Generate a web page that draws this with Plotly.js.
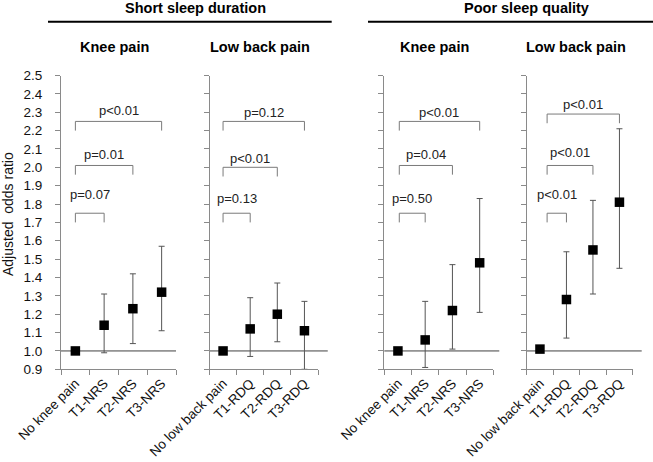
<!DOCTYPE html>
<html><head><meta charset="utf-8">
<script src="https://cdn.plot.ly/plotly-3.0.1.min.js"></script>
<style>html,body{margin:0;padding:0;background:#fff}</style>
</head><body>
<div id="chart" style="width:653px;height:462px"></div>
<script>
// ---------- data ----------
const groupTitles = ['Short sleep duration', 'Poor sleep quality'];
const panelTitles = ['Knee pain', 'Low back pain', 'Knee pain', 'Low back pain'];
const kneeCategories = ['No knee pain', 'T1-NRS', 'T2-NRS', 'T3-NRS'];
const backCategories = ['No low back pain', 'T1-RDQ', 'T2-RDQ', 'T3-RDQ'];
const yTickValues = [0.9, 1.0, 1.1, 1.2, 1.3, 1.4, 1.5, 1.6, 1.7, 1.8, 1.9, 2.0, 2.1, 2.2, 2.3, 2.4, 2.5];
const yAxisTitle = 'Adjusted  odds ratio';
const referenceOR = 1.0;

// Short sleep duration - knee pain
const shortKneeOR    = [1.00, 1.14, 1.23, 1.32];
const shortKneeLower = [1.00, 0.99, 1.04, 1.11];
const shortKneeUpper = [1.00, 1.31, 1.42, 1.57];
const shortKneeP     = ['p=0.07', 'p=0.01', 'p<0.01'];
const shortKneeBracketTop = [1.75, 2.01, 2.25];
const shortKneeLabelY     = [1.85, 2.07, 2.31];

// Short sleep duration - low back pain
const shortBackOR    = [1.00, 1.12, 1.20, 1.11];
const shortBackLower = [1.00, 0.97, 1.05, 0.90];
const shortBackUpper = [1.00, 1.29, 1.37, 1.27];
const shortBackP     = ['p=0.13', 'p<0.01', 'p=0.12'];
const shortBackBracketTop = [1.75, 2.00, 2.25];
const shortBackLabelY     = [1.83, 2.05, 2.30];

// Poor sleep quality - knee pain
const poorKneeOR    = [1.00, 1.06, 1.22, 1.48];
const poorKneeLower = [1.00, 0.91, 1.01, 1.21];
const poorKneeUpper = [1.00, 1.27, 1.47, 1.83];
const poorKneeP     = ['p=0.50', 'p=0.04', 'p<0.01'];
const poorKneeBracketTop = [1.75, 2.01, 2.25];
const poorKneeLabelY     = [1.83, 2.07, 2.30];

// Poor sleep quality - low back pain
const poorBackOR    = [1.01, 1.28, 1.55, 1.81];
const poorBackLower = [1.01, 1.07, 1.31, 1.45];
const poorBackUpper = [1.01, 1.54, 1.82, 2.21];
const poorBackP     = ['p<0.01', 'p<0.01', 'p<0.01'];
const poorBackBracketTop = [1.75, 2.01, 2.29];
const poorBackLabelY     = [1.85, 2.08, 2.34];

// ---------- assemble ----------
const panels = [
  {cats: kneeCategories, or: shortKneeOR, lo: shortKneeLower, hi: shortKneeUpper, p: shortKneeP, top: shortKneeBracketTop, lab: shortKneeLabelY, start: 0,    ext: 1.0,   dom: [61, 176]},
  {cats: backCategories, or: shortBackOR, lo: shortBackLower, hi: shortBackUpper, p: shortBackP, top: shortBackBracketTop, lab: shortBackLabelY, start: 0,    ext: 1.09,  dom: [209.5, 318]},
  {cats: kneeCategories, or: poorKneeOR,  lo: poorKneeLower,  hi: poorKneeUpper,  p: poorKneeP,  top: poorKneeBracketTop,  lab: poorKneeLabelY,  start: 0.05, ext: 1.055, dom: [384.3, 493.3]},
  {cats: backCategories, or: poorBackOR,  lo: poorBackLower,  hi: poorBackUpper,  p: poorBackP,  top: poorBackBracketTop,  lab: poorBackLabelY,  start: 0.27, ext: 1.085, dom: [526.7, 632.7]}
];

const W = 653, H = 462;
const yDomain = [1 - 369.3 / H, 1 - 75.5 / H];
const axisGray = '#8a8a8a';
const legDrop = 0.05;
const fontFam = '"Liberation Sans", Arial, sans-serif';

const traces = [];
const shapes = [];
const annotations = [];
const layout = {
  width: W, height: H,
  margin: {l: 0, r: 0, t: 0, b: 0},
  paper_bgcolor: '#fff', plot_bgcolor: 'rgba(0,0,0,0)',
  showlegend: false,
  font: {family: fontFam, color: '#111'}
};

panels.forEach((pn, i) => {
  const n = i === 0 ? '' : String(i + 1);
  const xa = 'x' + n, ya = 'y' + n;
  const idx = pn.cats.map((c, k) => k);

  layout['xaxis' + n] = {
    domain: [pn.dom[0] / W, pn.dom[1] / W],
    anchor: ya,
    range: [-0.5, pn.cats.length - 0.5],
    tickmode: 'array', tickvals: idx, ticktext: pn.cats,
    ticks: '', tickangle: -45,
    tickfont: {size: 13.5, color: '#111', family: fontFam},
    minor: {tickmode: 'array', tickvals: idx.concat([pn.cats.length]).map(v => v - 0.5), ticks: 'outside', ticklen: 5, tickcolor: axisGray, tickwidth: 1, showgrid: false},
    showline: true, linecolor: axisGray, linewidth: 1,
    showgrid: false, zeroline: false, fixedrange: true
  };
  layout['yaxis' + n] = {
    domain: yDomain,
    anchor: xa,
    range: [0.9, 2.5],
    tickmode: 'array', tickvals: yTickValues, tickformat: '.1f',
    ticks: 'outside', ticklen: 5, tickcolor: axisGray, tickwidth: 1,
    showticklabels: i === 0, ticklabelstandoff: 10,
    tickfont: {size: 13.5, color: '#111', family: fontFam},
    showline: true, linecolor: axisGray, linewidth: 1,
    showgrid: false, zeroline: false, fixedrange: true
  };

  // reference line at OR = 1
  shapes.push({type: 'line', xref: xa + ' domain', yref: ya, x0: 0, x1: pn.ext, y0: referenceOR, y1: referenceOR,
               line: {color: '#404040', width: 1}, layer: 'below'});

  // brackets
  const bx = [], by = [];
  pn.top.forEach((t, k) => {
    bx.push(pn.start, pn.start, k + 1, k + 1, null);
    by.push(t - legDrop, t, t, t - legDrop, null);
    annotations.push({xref: xa, yref: ya, x: (pn.start + k + 1) / 2, y: pn.lab[k], text: pn.p[k],
      showarrow: false, xanchor: 'center', yanchor: 'middle', font: {size: 13, color: '#222', family: fontFam}});
  });
  traces.push({type: 'scatter', mode: 'lines', x: bx, y: by, xaxis: xa, yaxis: ya,
               line: {color: '#7a7a7a', width: 1}, hoverinfo: 'skip', cliponaxis: false});

  // odds ratios with CI
  traces.push({
    type: 'scatter', mode: 'markers', x: idx, y: pn.or, xaxis: xa, yaxis: ya, cliponaxis: false,
    marker: {symbol: 'square', size: 9.5, color: '#000', line: {width: 0}},
    error_y: {type: 'data', symmetric: false,
              array: pn.hi.map((h, k) => h - pn.or[k]),
              arrayminus: pn.lo.map((l, k) => pn.or[k] - l),
              color: '#555', thickness: 1, width: 3}
  });

  annotations.push({xref: 'paper', yref: 'paper', x: (pn.dom[0] + pn.dom[1]) / 2 / W - 0.006, y: 1 - 46.5 / H,
    text: '<b>' + panelTitles[i] + '</b>', showarrow: false, xanchor: 'center', yanchor: 'middle',
    font: {size: 14.5, color: '#000', family: fontFam}});
});

// group titles and rules
annotations.push({xref: 'paper', yref: 'paper', x: 195.8 / W, y: 1 - 8 / H, text: '<b>' + groupTitles[0] + '</b>',
  showarrow: false, xanchor: 'center', yanchor: 'middle', font: {size: 14.5, color: '#000', family: fontFam}});
annotations.push({xref: 'paper', yref: 'paper', x: 526.7 / W, y: 1 - 8 / H, text: '<b>' + groupTitles[1] + '</b>',
  showarrow: false, xanchor: 'center', yanchor: 'middle', font: {size: 14.5, color: '#000', family: fontFam}});
shapes.push({type: 'line', xref: 'paper', yref: 'paper', x0: 48 / W, x1: 331.7 / W, y0: 1 - 21.7 / H, y1: 1 - 21.7 / H, line: {color: '#000', width: 2}});
shapes.push({type: 'line', xref: 'paper', yref: 'paper', x0: 368 / W, x1: 1, y0: 1 - 21.7 / H, y1: 1 - 21.7 / H, line: {color: '#000', width: 2}});

// y axis title
annotations.push({xref: 'paper', yref: 'paper', x: 8 / W, y: 1 - 214 / H, text: yAxisTitle,
  textangle: -90, showarrow: false, xanchor: 'center', yanchor: 'middle', font: {size: 14, color: '#111', family: fontFam}});

layout.shapes = shapes;
layout.annotations = annotations;

Plotly.newPlot('chart', traces, layout, {staticPlot: true, displayModeBar: false});
</script>
</body></html>
